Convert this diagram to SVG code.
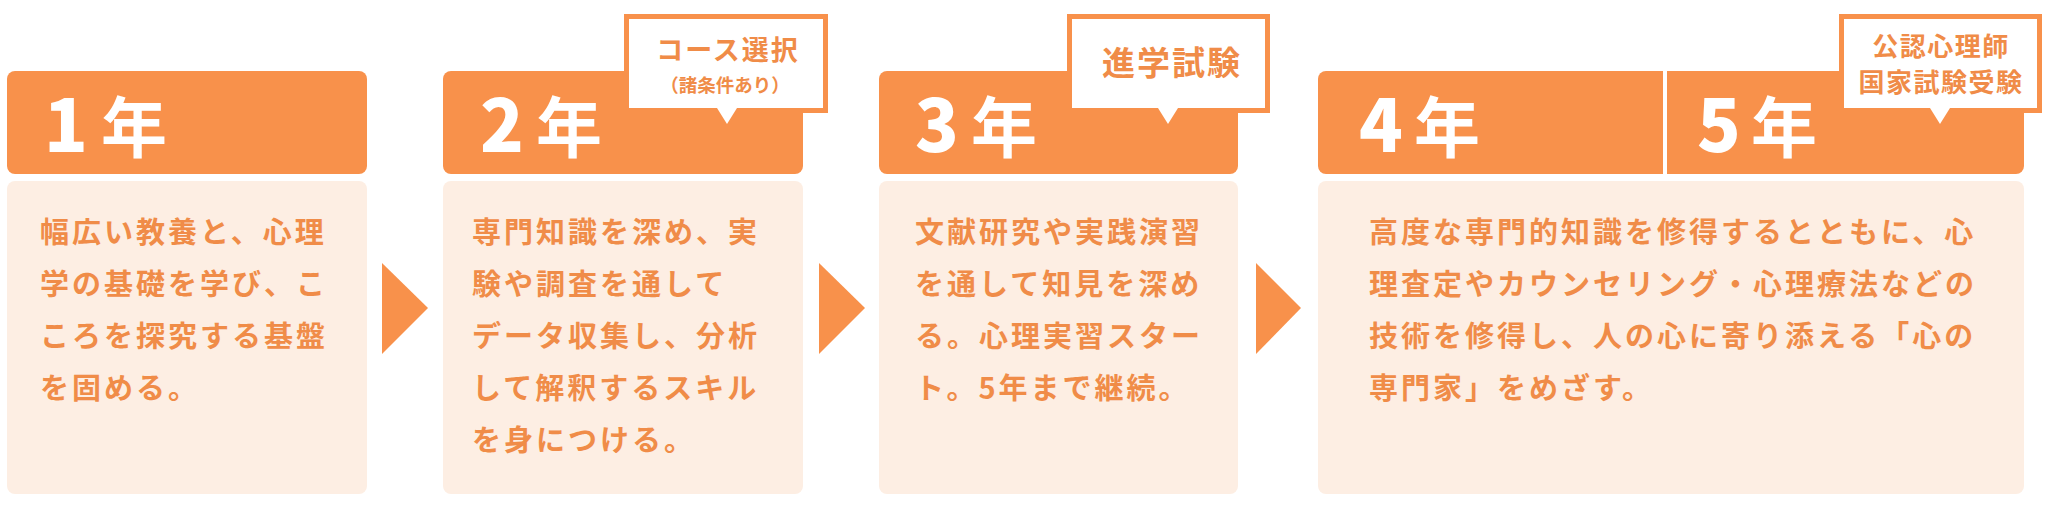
<svg xmlns="http://www.w3.org/2000/svg" width="2055" height="509" viewBox="0 0 2055 509">
<style>
.hd{fill:#F8914B}
.bd{fill:#FDEEE3}
.arrow{fill:#F8914B}
.co{fill:#FFFFFF;stroke:#F8914B;stroke-width:5}
.ptr{fill:#FFFFFF}
.yr{font-family:"Noto Sans CJK JP","Noto Sans",sans-serif;font-weight:700;font-size:66px;fill:#FFFFFF}
.dg{font-size:72px;font-weight:800}
.tx{font-family:"Noto Sans CJK JP","Noto Sans",sans-serif;font-weight:700;font-size:29px;letter-spacing:3px;fill:#F08C48}
.ct{font-family:"Noto Sans CJK JP","Noto Sans",sans-serif;font-weight:700;fill:#F08C48;text-anchor:middle}
</style>
<rect width="2055" height="509" fill="#FFFFFF"/>
<g id="connectors">
<polygon class="arrow" points="382,263 428,308 382,354"/>
<polygon class="arrow" points="819,263 865,308 819,354"/>
<polygon class="arrow" points="1256,263 1301,308 1256,354"/>
</g>
<g id="year1">
<rect class="hd" x="7" y="71" width="360" height="103" rx="8"/>
<rect class="bd" x="7" y="181" width="360" height="313" rx="8"/>
<text class="yr" y="152"><tspan class="dg" x="44">1</tspan><tspan x="101">年</tspan></text>
<text class="tx"><tspan x="40" y="243">幅広い教養と、心理</tspan><tspan x="40" y="295">学の基礎を学び、こ</tspan><tspan x="40" y="347">ころを探究する基盤</tspan><tspan x="40" y="399">を固める。</tspan></text>
</g>
<g id="year2">
<rect class="hd" x="443" y="71" width="360" height="103" rx="8"/>
<rect class="bd" x="443" y="181" width="360" height="313" rx="8"/>
<text class="yr" y="152"><tspan class="dg" x="480">2</tspan><tspan x="536">年</tspan></text>
<text class="tx"><tspan x="472" y="243">専門知識を深め、実</tspan><tspan x="472" y="295">験や調査を通して</tspan><tspan x="472" y="347">データ収集し、分析</tspan><tspan x="472" y="399">して解釈するスキル</tspan><tspan x="472" y="451">を身につける。</tspan></text>
</g>
<g id="callout2">
<rect class="co" x="626.5" y="16.5" width="199" height="94"/>
<polygon class="ptr" points="717,108 737,108 727,124"/>
<text class="ct" x="728" y="60" font-size="27" letter-spacing="2">コース選択</text>
<text class="ct" x="725" y="92" font-size="18.5">（諸条件あり）</text>
</g>
<g id="year3">
<rect class="hd" x="879" y="71" width="359" height="103" rx="8"/>
<rect class="bd" x="879" y="181" width="359" height="313" rx="8"/>
<text class="yr" y="152"><tspan class="dg" x="915">3</tspan><tspan x="971">年</tspan></text>
<text class="tx"><tspan x="915" y="243">文献研究や実践演習</tspan><tspan x="915" y="295">を通して知見を深め</tspan><tspan x="915" y="347">る。心理実習スター</tspan><tspan x="915" y="399">ト。5年まで継続。</tspan></text>
</g>
<g id="callout3">
<rect class="co" x="1069.5" y="16.5" width="198" height="94"/>
<polygon class="ptr" points="1158,108 1178,108 1168,124"/>
<text class="ct" x="1172" y="75" font-size="33" letter-spacing="2">進学試験</text>
</g>
<g id="year45">
<rect class="hd" x="1318" y="71" width="706" height="103" rx="8"/>
<rect class="bd" x="1318" y="181" width="706" height="313" rx="8"/>
<rect x="1663" y="71" width="4" height="103" fill="#FFFFFF"/>
<text class="yr" y="152"><tspan class="dg" x="1359">4</tspan><tspan x="1414">年</tspan></text>
<text class="yr" y="152"><tspan class="dg" x="1697">5</tspan><tspan x="1751">年</tspan></text>
<text class="tx"><tspan x="1369" y="243">高度な専門的知識を修得するとともに、心</tspan><tspan x="1369" y="295">理査定やカウンセリング・心理療法などの</tspan><tspan x="1369" y="347">技術を修得し、人の心に寄り添える「心の</tspan><tspan x="1369" y="399">専門家」をめざす。</tspan></text>
</g>
<g id="callout45">
<rect class="co" x="1841.5" y="16.5" width="198" height="94"/>
<polygon class="ptr" points="1930,108 1950,108 1940,124"/>
<text class="ct" x="1941" y="56" font-size="26" letter-spacing="1.5">公認心理師</text>
<text class="ct" x="1941" y="92" font-size="26" letter-spacing="1.5">国家試験受験</text>
</g>
</svg>
